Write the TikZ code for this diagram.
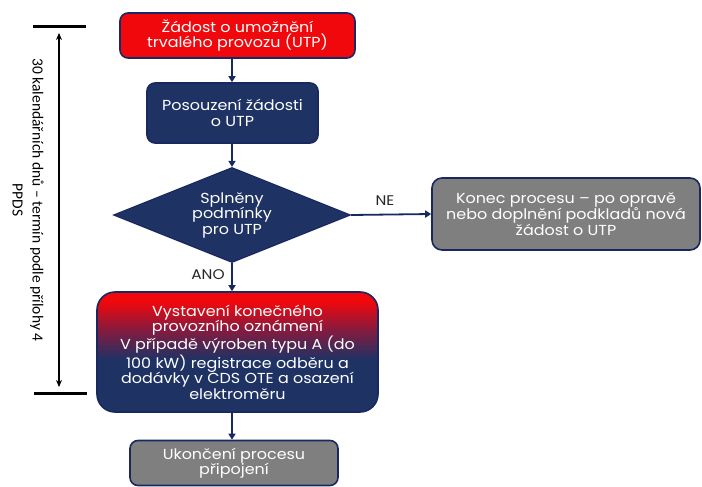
\documentclass[tikz,border=0pt]{standalone}
\usepackage{fontspec}
\setmainfont{Poppins}[FakeStretch=1.1]
\newfontfamily\sidefont{Carlito}
\usetikzlibrary{shapes.geometric,arrows.meta}
\definecolor{navy}{RGB}{31,50,100}
\definecolor{edge}{RGB}{24,40,96}
\definecolor{redbox}{RGB}{240,8,12}
\definecolor{midred}{RGB}{140,25,60}
\definecolor{grayfill}{RGB}{127,127,127}
\pgfdeclareverticalshading{redtonavy}{100bp}{color(0bp)=(navy); color(47bp)=(navy); color(60bp)=(midred); color(71bp)=(redbox); color(100bp)=(redbox)}
\tikzset{
  boxtext/.style={text=white, align=center, font=\fontsize{14.5}{15.5}\selectfont},
  basebox/.style={draw=edge, line width=1.6pt, rounded corners=8pt, boxtext, inner sep=0pt},
  flow/.style={draw=edge, line width=1.8pt, -{Triangle[length=6pt,width=7pt]}},
  lbl/.style={text=black!85, font=\fontsize{14}{15}\selectfont},
}
\begin{document}
\begin{tikzpicture}[x=1pt,y=-1pt]
\useasboundingbox (0,0) rectangle (702,487);
% nodes
\node[basebox, fill=redbox, minimum width=235pt, minimum height=45pt] (req) at (237.5,35.5)
  {Žádost o umožnění\\trvalého provozu (UTP)};
\node[basebox, fill=navy, minimum width=171pt, minimum height=60pt] (assess) at (232.5,113)
  {Posouzení žádosti\\o UTP};
\node[diamond, draw=edge, line width=1.2pt, fill=navy, minimum width=237pt, minimum height=95pt, inner sep=0pt, aspect=2.5, boxtext] (cond) at (232,215)
  {Splněny\\podmínky\\pro UTP};
\node[basebox, fill=grayfill, rounded corners=10pt, minimum width=268pt, minimum height=72pt] (endp) at (566,214)
  {Konec procesu – po opravě\\nebo doplnění podkladů nová\\žádost o UTP};
\node[basebox, rounded corners=18pt, shading=redtonavy, minimum width=281pt, minimum height=120pt] (issue) at (237.5,352)
  {Vystavení konečného\\provozního oznámení\\V případě výroben typu A (do\\100 kW) registrace odběru a\\dodávky v CDS OTE a osazení\\elektroměru};
\node[basebox, fill=grayfill, minimum width=208pt, minimum height=45pt] (finish) at (234,463)
  {Ukončení procesu\\připojení};
% connectors
\draw[flow] (req.south -| 232,0) -- (assess.north -| 232,0);
\draw[flow] (assess.south -| 232,0) -- (cond.north);
\draw[flow] (cond.east) -- (endp.west);
\draw[flow] (cond.south) -- (issue.north -| cond.south);
\draw[flow] (issue.south -| 232,0) -- (finish.north -| 232,0);
\node[lbl] (ne) at (385,201) {NE};
\node[lbl] (ano) at (208,275) {ANO};
% time span
\coordinate (t1) at (33,27);
\coordinate (t2) at (86,27);
\coordinate (b1) at (34,393);
\coordinate (b2) at (87,393);
\draw[line width=3pt] (t1) -- (t2);
\draw[line width=3pt] (b1) -- (b2);
\coordinate (ta) at (59,33);
\coordinate (tb) at (59,387);
\draw[line width=1.5pt, {Stealth[length=7pt,width=6pt]}-{Stealth[length=7pt,width=6pt]}] (ta) -- (tb);
\node[rotate=-90, align=center, font=\sidefont\fontsize{15.5}{20}\selectfont] (span) at (28,200)
  {30 kalendářních dnů – termín podle přílohy 4\\PPDS};
\end{tikzpicture}
\end{document}
